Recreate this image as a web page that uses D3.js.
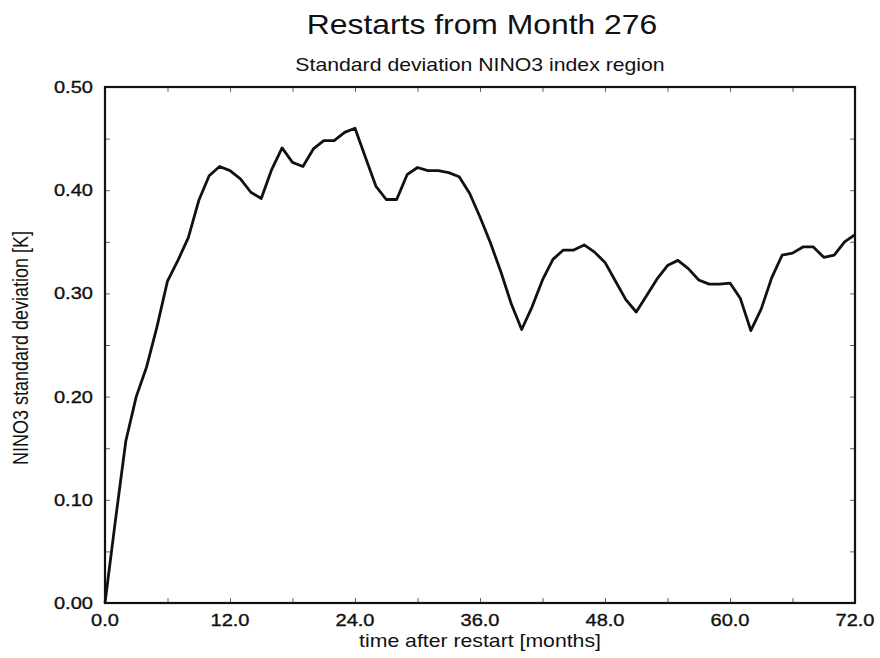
<!DOCTYPE html>
<html>
<head>
<meta charset="utf-8">
<script src="https://cdn.jsdelivr.net/npm/d3@7"></script>
<style>
  body { margin: 0; background: #fff; }
  text { font-family: "Liberation Sans", Arial, Helvetica, sans-serif; fill: #111; }
  text.tick-label { stroke: #111; stroke-width: 0.35px; }
</style>
</head>
<body>
<div id="main"></div>
<script>
const ctx = {
    WIDTH: 880,
    HEIGHT: 658,
    LEFT: 105,
    TOP: 87,
    PW: 750,
    PH: 516,
    SX: 1.18, // the scanned figure is a bit wider than tall
};

// months after restart, 0..72
const months = d3.range(0, 73);
// NINO3 standard deviation [K]
const stdev = [
    0.000, 0.080, 0.157, 0.200, 0.229, 0.268, 0.312, 0.332, 0.354, 0.390,
    0.414, 0.423, 0.419, 0.411, 0.398, 0.392, 0.420, 0.441, 0.427, 0.423,
    0.440, 0.448, 0.448, 0.456, 0.460, 0.432, 0.404, 0.391, 0.391, 0.415,
    0.422, 0.419, 0.419, 0.417, 0.413, 0.397, 0.374, 0.349, 0.321, 0.290,
    0.265, 0.287, 0.313, 0.333, 0.342, 0.342, 0.347, 0.340, 0.330, 0.312,
    0.294, 0.282, 0.298, 0.314, 0.327, 0.332, 0.324, 0.313, 0.309, 0.309,
    0.310, 0.295, 0.264, 0.285, 0.315, 0.337, 0.339, 0.345, 0.345, 0.335,
    0.337, 0.350, 0.357
];
const xMajor = [0, 12, 24, 36, 48, 60, 72];
const xMinor = [6, 18, 30, 42, 54, 66];
const yMajor = [0, 0.1, 0.2, 0.3, 0.4, 0.5];
const yMinor = [0.05, 0.15, 0.25, 0.35, 0.45];

const title = "Restarts from Month 276";
const subtitle = "Standard deviation NINO3 index region";
const xTitle = "time after restart [months]";
const yTitle = "NINO3 standard deviation [K]";

// text with a slight horizontal stretch, like the scan
function stretchedText(parent, x, y, str, size, anchor, rotate) {
    let t = rotate ? `translate(${x},${y}) scale(${ctx.SX},1) rotate(${rotate})`
                   : `translate(${x},${y}) scale(${ctx.SX},1)`;
    return parent.append("text")
        .attr("transform", t)
        .attr("text-anchor", anchor)
        .style("font-size", size + "px")
        .text(str);
}

function createChart() {
    let svg = d3.select("#main").append("svg")
        .attr("width", ctx.WIDTH)
        .attr("height", ctx.HEIGHT);

    let x = d3.scaleLinear().domain([0, 72]).range([0, ctx.PW]);
    let y = d3.scaleLinear().domain([0, 0.5]).range([ctx.PH, 0]);

    let g = svg.append("g")
        .attr("transform", `translate(${ctx.LEFT},${ctx.TOP})`);

    // inward ticks on all four sides
    const tickStyle = sel => {
        sel.select(".domain").remove();
        sel.selectAll("line").attr("stroke", "#666").attr("stroke-width", 1);
    };
    g.append("g").attr("transform", `translate(0,${ctx.PH})`)
        .call(d3.axisBottom(x).tickValues(xMajor.concat(xMinor)).tickSize(-5).tickFormat(""))
        .call(tickStyle);
    g.append("g")
        .call(d3.axisTop(x).tickValues(xMajor.concat(xMinor)).tickSize(-5).tickFormat(""))
        .call(tickStyle);
    g.append("g")
        .call(d3.axisLeft(y).tickValues(yMajor.concat(yMinor)).tickSize(-5).tickFormat(""))
        .call(tickStyle);
    g.append("g").attr("transform", `translate(${ctx.PW},0)`)
        .call(d3.axisRight(y).tickValues(yMajor.concat(yMinor)).tickSize(-5).tickFormat(""))
        .call(tickStyle);

    // tick labels
    xMajor.forEach(d => {
        stretchedText(g, x(d), ctx.PH + 23, d.toFixed(1), 17, "middle")
            .attr("class", "tick-label");
    });
    yMajor.forEach(d => {
        stretchedText(g, -12, y(d) + 6, d.toFixed(2), 17, "end")
            .attr("class", "tick-label");
    });

    // data line
    let line = d3.line()
        .x((d, i) => x(months[i]))
        .y(d => y(d));

    g.append("path")
        .datum(stdev)
        .attr("d", line)
        .attr("fill", "none")
        .attr("stroke", "#111")
        .attr("stroke-width", 2.8)
        .attr("stroke-linejoin", "round");

    // frame
    g.append("rect")
        .attr("width", ctx.PW)
        .attr("height", ctx.PH)
        .attr("fill", "none")
        .attr("stroke", "#111")
        .attr("stroke-width", 2.2);

    // titles
    let cx = ctx.LEFT + ctx.PW / 2;
    stretchedText(svg, cx + 2, 34, title, 27, "middle");
    stretchedText(svg, cx, 71, subtitle, 18, "middle");
    stretchedText(svg, cx, 647, xTitle, 18, "middle");
    stretchedText(svg, 28, ctx.TOP + ctx.PH / 2 + 3, yTitle, 18, "middle", -90);
}

createChart();
</script>
</body>
</html>
